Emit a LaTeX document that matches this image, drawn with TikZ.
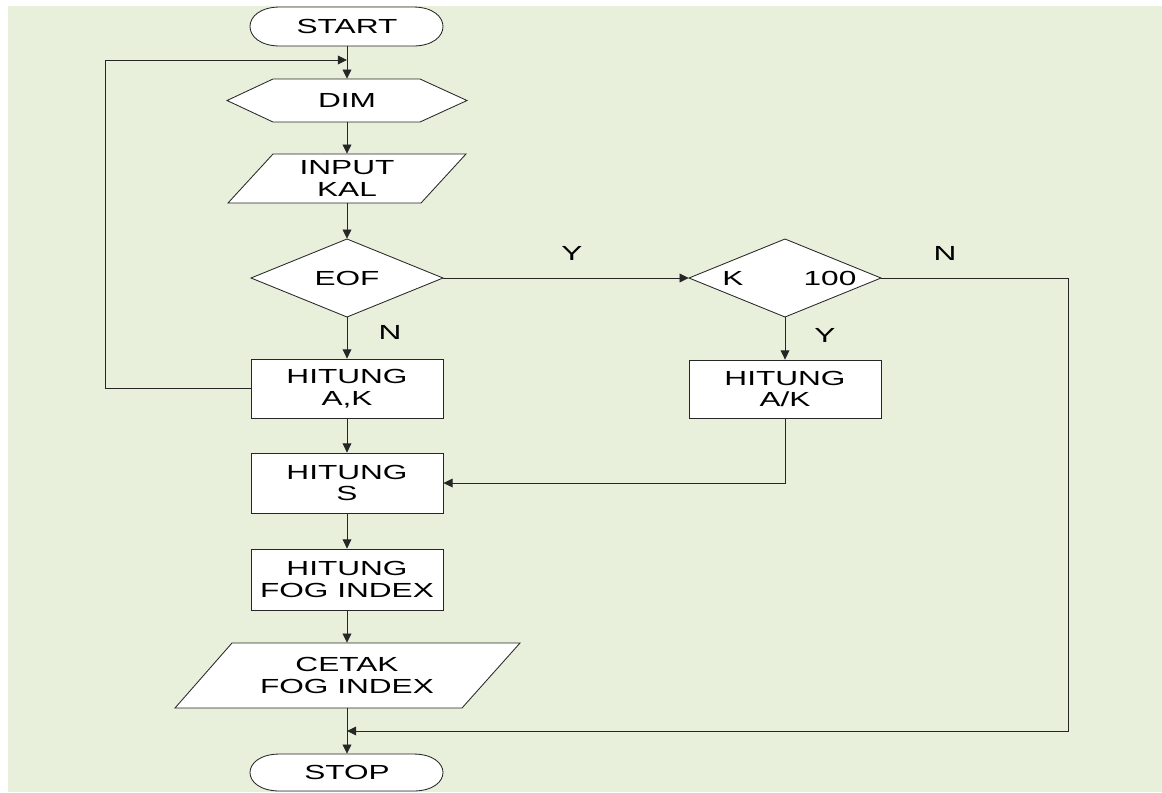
\documentclass[tikz,border=0pt]{standalone}
\usepackage{fontspec}
\newfontfamily\wfont[FakeStretch=1.55]{Liberation Sans}
\usetikzlibrary{arrows.meta}
\definecolor{bg}{HTML}{E8F0DC}
\definecolor{ln}{HTML}{262626}
\begin{document}
\begin{tikzpicture}[x=0.025cm,y=-0.025cm,
  txt/.style={font=\wfont\fontsize{14.5}{15.5}\selectfont, align=center, text=black, inner sep=0pt},
  shp/.style={draw=ln, fill=white, line width=0.6pt, line join=miter},
  boxnode/.style={txt, shp, minimum width=4.8cm},
  hold/.style={txt},
  arr/.style={draw=ln, line width=0.6pt, -{Triangle[length=0.23cm,width=0.22cm]}},
  lbl/.style={txt}]
\useasboundingbox (0,0) rectangle (1162,792);
\fill[bg] (8,6) rectangle (1162,792);

% shapes drawn directly
\path[shp] (280,7) -- (413,7) .. controls (453,7) and (453,46) .. (413,46) -- (280,46) .. controls (240,46) and (240,7) .. (280,7) -- cycle;
\path[shp] (227,100.5) -- (273,79) -- (420,79) -- (467,100.5) -- (420,122) -- (273,122) -- cycle;
\path[shp] (273,154) -- (466,154) -- (421,203) -- (228,203) -- cycle;
\path[shp] (251,278) -- (347,239) -- (443,278) -- (347,317) -- cycle;
\path[shp] (689,278) -- (785,239) -- (881,278) -- (785,317) -- cycle;
\path[shp] (232,643) -- (520,643) -- (462,708) -- (175,708) -- cycle;
\path[shp] (280,754) -- (413,754) .. controls (453,754) and (453,791) .. (413,791) -- (280,791) .. controls (240,791) and (240,754) .. (280,754) -- cycle;

% nodes
\node[hold, minimum height=0.975cm] (start) at (347,26.5) {START};
\node[hold, minimum height=1.075cm] (dim) at (347,100.5) {DIM};
\node[hold, minimum height=1.225cm] (input) at (347,178.5) {INPUT\\KAL};
\node[hold, minimum height=1.95cm, minimum width=4.8cm] (eof) at (347,278) {EOF};
\node[hold, minimum height=1.95cm, minimum width=4.8cm] (kdec) at (785,278) {};
\node[txt] (kK) at (733,278) {K};
\node[txt] (k100) at (830,278) {100};
\node[boxnode, minimum height=1.475cm] (hak) at (347,388.5) {HITUNG\\A,K};
\node[boxnode, minimum height=1.45cm] (hak2) at (785,389) {HITUNG\\A/K};
\node[boxnode, minimum height=1.5cm] (hs) at (347,483) {HITUNG\\S};
\node[boxnode, minimum height=1.525cm] (hfog) at (347,579.5) {HITUNG\\FOG INDEX};
\node[hold, minimum height=1.625cm] (cetak) at (347,675.5) {CETAK\\FOG INDEX};
\node[hold, minimum height=0.925cm] (stop) at (347,772.5) {STOP};

% labels
\node[lbl] (lY1) at (572,253) {Y};
\node[lbl] (lN1) at (390,332) {N};
\node[lbl] (lY2) at (825,335) {Y};
\node[lbl] (lN2) at (945,253) {N};

% connectors
\coordinate (loopin) at (347,60);
\coordinate (loopL) at (105,60);
\coordinate (joinR) at (1068,731);
\coordinate (join) at (347,731);

\draw[arr] (start.south) -- (dim.north);
\draw[arr] (dim.south) -- (input.north);
\draw[arr] (input.south) -- (eof.north);
\draw[arr] (eof.south) -- (hak.north);
\draw[arr] (eof.east) -- (kdec.west);
\draw[arr] (kdec.south) -- (hak2.north);
\draw[arr] (hak.south) -- (hs.north);
\draw[arr] (hak2.south) |- (hs.east);
\draw[arr] (hs.south) -- (hfog.north);
\draw[arr] (hfog.south) -- (cetak.north);
\draw[arr] (cetak.south) -- (stop.north);
\draw[arr] (hak.west) -| (loopL) -- (loopin);
\draw[arr] (kdec.east) -| (joinR) -- (join);
\end{tikzpicture}
\end{document}
